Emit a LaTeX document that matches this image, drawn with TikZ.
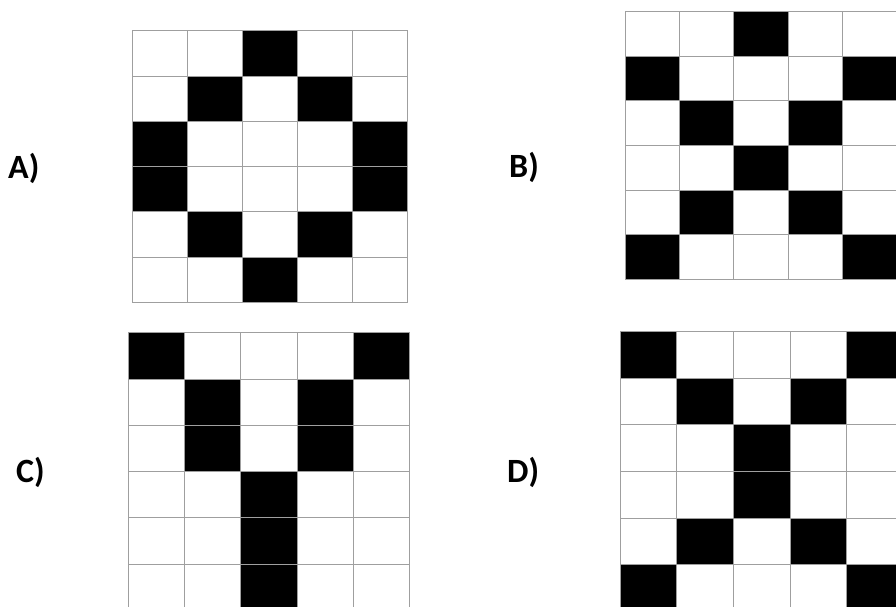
\documentclass[tikz,border=0pt]{standalone}
\usepackage{fontspec}
\setmainfont{Carlito}
\usepackage{tikz}
\usetikzlibrary{positioning}
\colorlet{on}{black}
\colorlet{off}{white}

\begin{document}
\begin{tikzpicture}[
    x=1pt, y=-1pt,
 cell/.style = {draw=gray!75, line width=0.9pt},
  lbl/.style = {anchor=base west, inner sep=0pt,
                font=\fontsize{34}{40}\selectfont\bfseries}
                    ]
\useasboundingbox (0,0) rectangle (896,606);
% A
    \begin{scope}[shift={(132,30.7)}]
\foreach \pat [count=\r] in {{off,off,on,off,off},{off,on,off,on,off},
        {on,off,off,off,on},{on,off,off,off,on},
        {off,on,off,on,off},{off,off,on,off,off}}
    \foreach \v [count=\c] in \pat
        \draw[cell, fill=\v] ({(\c-1)*55},{(\r-1)*45.3}) rectangle ++(55,45.3);
    \end{scope}
% B
    \begin{scope}[shift={(625.3,11.3)}]
\foreach \pat [count=\r] in {{off,off,on,off,off},{on,off,off,off,on},
        {off,on,off,on,off},{off,off,on,off,off},
        {off,on,off,on,off},{on,off,off,off,on}}
    \foreach \v [count=\c] in \pat
        \draw[cell, fill=\v] ({(\c-1)*54.3},{(\r-1)*44.7}) rectangle ++(54.3,44.7);
    \end{scope}
% C
    \begin{scope}[shift={(128.7,332.7)}]
\foreach \pat [count=\r] in {{on,off,off,off,on},{off,on,off,on,off},
        {off,on,off,on,off},{off,off,on,off,off},
        {off,off,on,off,off},{off,off,on,off,off}}
    \foreach \v [count=\c] in \pat
        \draw[cell, fill=\v] ({(\c-1)*56.1},{(\r-1)*46.3}) rectangle ++(56.1,46.3);
    \end{scope}
% D
    \begin{scope}[shift={(620,331.3)}]
\foreach \pat [count=\r] in {{on,off,off,off,on},{off,on,off,on,off},
        {off,off,on,off,off},{off,off,on,off,off},
        {off,on,off,on,off},{on,off,off,off,on}}
    \foreach \v [count=\c] in \pat
        \draw[cell, fill=\v] ({(\c-1)*56.7},{(\r-1)*46.7}) rectangle ++(56.7,46.7);
    \end{scope}
% labels
\node (la) [lbl] at (8,178)   {A)};
\node (lb) [lbl] at (509,177) {B)};
\node (lc) [lbl] at (16,482)  {C)};
\node (ld) [lbl] at (507,482) {D)};
    \end{tikzpicture}
\end{document}
